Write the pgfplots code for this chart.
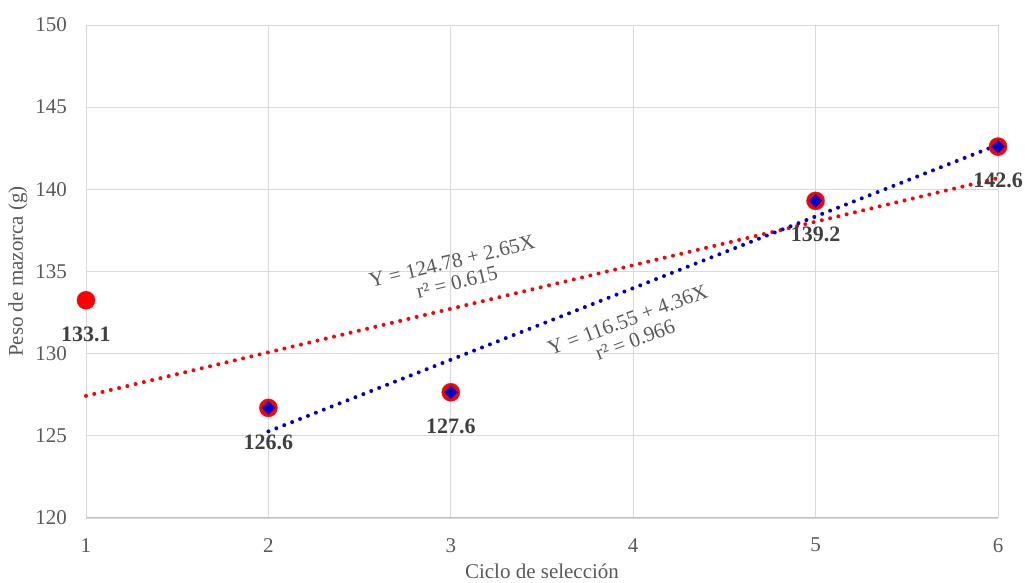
\documentclass[border=0pt]{standalone}
\usepackage{fontspec}
\setmainfont{Liberation Serif}
\usepackage{pgfplots}
\pgfplotsset{compat=1.18}
\definecolor{txtgray}{HTML}{595959}
\definecolor{lblgray}{HTML}{404040}
\definecolor{gridgray}{HTML}{D9D9D9}
\definecolor{axgray}{HTML}{BFBFBF}
\definecolor{myblue}{HTML}{0000CC}
\definecolor{myred}{HTML}{FF0000}
\begin{document}
\begin{tikzpicture}
\begin{axis}[
  scale only axis, width=912pt, height=493pt,
  at={(0,0)}, anchor=south west,
  xmin=1, xmax=6, ymin=120, ymax=150,
  xtick={1,2,3,4,5,6}, ytick={120,125,130,135,140,145,150},
  grid=major, major grid style={gridgray, line width=0.9pt},
  axis line style={draw=none},
  major tick length=0pt,
  /pgf/number format/assume math mode=true,
  tick label style={font=\fontsize{21}{24}\selectfont, text=txtgray},
  xticklabel style={anchor=north, inner sep=0pt, yshift=-20pt},
  yticklabel style={anchor=east, inner sep=0pt, xshift=-19pt},
  xlabel={Ciclo de selección},
  ylabel={Peso de mazorca (g)},
  label style={font=\fontsize{21}{24}\selectfont, text=txtgray},
  xlabel style={at={(axis description cs:0.5,-0.1075)}, anchor=center},
  ylabel style={at={(axis description cs:-0.0746,0.5)}, anchor=center},
  clip=false,
]
% trend lines
\addplot[myred, line width=4pt, line cap=round, dash pattern=on 0pt off 8.5pt, mark=none]
  coordinates {(1,127.43) (6,140.68)};
\addplot[myblue, line width=4pt, line cap=round, dash pattern=on 0pt off 8.5pt, mark=none]
  coordinates {(2,125.27) (6,142.71)};
% observed points
\addplot[only marks, mark=*, mark size=9pt, mark options={fill=myred, draw=myred},
  point meta=explicit symbolic, nodes near coords,
  nodes near coords align=center,
  every node near coord/.append style={font=\bfseries\fontsize{22}{24}\selectfont, text=lblgray, yshift=-34pt}]
  coordinates {(1,133.25) [133.1] (2,126.7) [126.6] (3,127.65) [127.6] (5,139.3) [139.2] (6,142.6) [142.6]};
\addplot[only marks, mark=square*, mark size=4.6pt, mark options={fill=myblue, draw=myblue, rotate=45}]
  coordinates {(2,126.7) (3,127.65) (5,139.3) (6,142.6)};
\draw[axgray, line width=1pt] (axis cs:1,120) -- (axis cs:6,120);
\node[rotate=13.5, align=center, text=txtgray, font=\fontsize{21}{21.5}\selectfont] at (axis cs:3.02,134.97) {Y = 124.78 + 2.65X\\r² = 0.615};
\node[rotate=20.5, align=center, text=txtgray, font=\fontsize{21}{21.5}\selectfont] at (axis cs:3.99,131.44) {Y = 116.55 + 4.36X\\r² = 0.966};
\end{axis}
\pgfresetboundingbox
\path[use as bounding box] (-86pt,-65pt) rectangle (939pt,518pt);
\end{tikzpicture}
\end{document}
